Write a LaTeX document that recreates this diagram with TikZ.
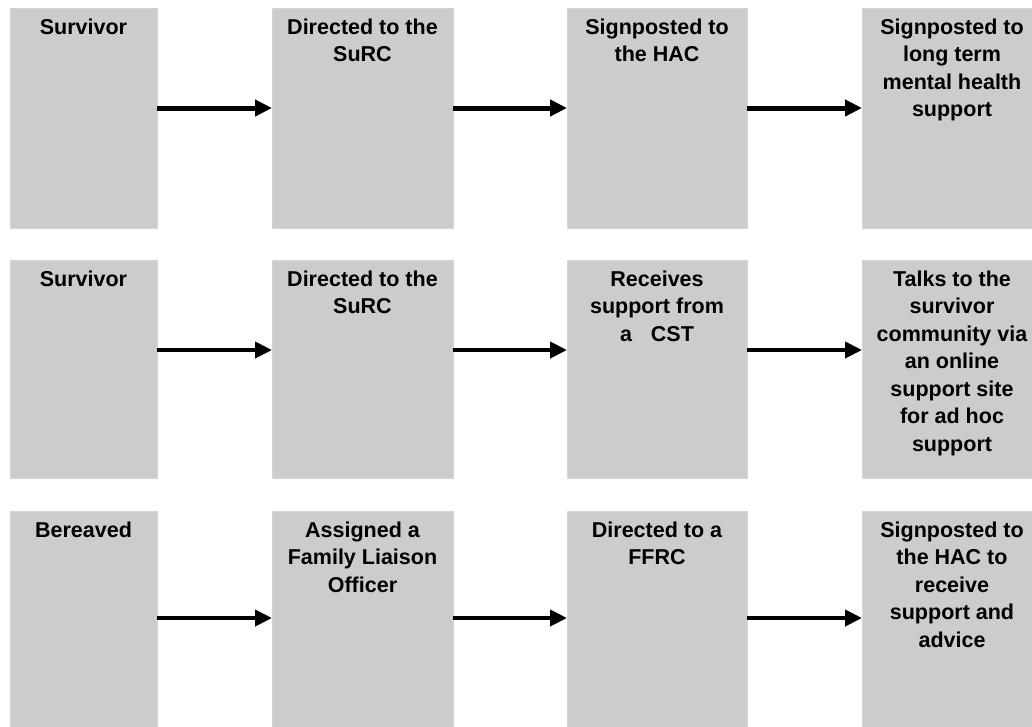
\documentclass[tikz,border=0pt]{standalone}
\usepackage{fontspec}
\setmainfont{Liberation Sans}
\usetikzlibrary{arrows.meta}
\definecolor{boxgray}{RGB}{204,204,204}
\definecolor{boxedge}{RGB}{214,214,214}
\newcommand{\boxtext}[3]{\parbox[c][#2][t]{#1}{\centering\rule{0pt}{26pt}#3\par}}
\tikzset{
  stagebox/.style={fill=boxgray, draw=boxedge, line width=0.8pt, inner sep=0pt, outer sep=0pt, anchor=north west,
    font=\bfseries\fontsize{21.5}{27.5}\selectfont},
  flowthick/.style={line width=5pt, -{Triangle[length=17pt,width=16pt]}},
  flow/.style={line width=4pt, -{Triangle[length=17pt,width=16pt]}},
}
\begin{document}
\begin{tikzpicture}[x=1pt,y=-1pt]
\useasboundingbox (0,0) rectangle (1032,726);
\clip (0,0) rectangle (1032,726);
% row 1
\node[stagebox] (a1) at (10,8)  {\boxtext{147pt}{220pt}{Survivor}};
\node[stagebox] (a2) at (272,8) {\boxtext{181pt}{220pt}{Directed to the\\SuRC}};
\node[stagebox] (a3) at (567,8) {\boxtext{180pt}{220pt}{Signposted to\\the HAC}};
\node[stagebox] (a4) at (862,8) {\boxtext{180pt}{220pt}{Signposted to\\long term\\mental health\\support}};
% row 2
\node[stagebox] (b1) at (10,260)  {\boxtext{147pt}{218pt}{Survivor}};
\node[stagebox] (b2) at (272,260) {\boxtext{181pt}{218pt}{Directed to the\\SuRC}};
\node[stagebox] (b3) at (567,260) {\boxtext{180pt}{218pt}{Receives\\support from\\a\hspace{0.6em} CST}};
\node[stagebox] (b4) at (862,260) {\boxtext{180pt}{218pt}{Talks to the\\survivor\\community via\\an online\\support site\\for ad hoc\\support}};
% row 3
\node[stagebox] (c1) at (10,511)  {\boxtext{147pt}{224pt}{Bereaved}};
\node[stagebox] (c2) at (272,511) {\boxtext{181pt}{224pt}{Assigned a\\Family Liaison\\Officer}};
\node[stagebox] (c3) at (567,511) {\boxtext{180pt}{224pt}{Directed to a\\FFRC}};
\node[stagebox] (c4) at (862,511) {\boxtext{180pt}{224pt}{Signposted to\\the HAC to\\receive\\support and\\advice}};
% arrows
\draw[flowthick] ([yshift=10pt]a1.east) -- ([yshift=10pt]a2.west);
\draw[flowthick] ([yshift=10pt]a2.east) -- ([yshift=10pt]a3.west);
\draw[flowthick] ([yshift=10pt]a3.east) -- ([yshift=10pt]a4.west);
\draw[flow] ([yshift=19pt]b1.east) -- ([yshift=19pt]b2.west);
\draw[flow] ([yshift=19pt]b2.east) -- ([yshift=19pt]b3.west);
\draw[flow] ([yshift=19pt]b3.east) -- ([yshift=19pt]b4.west);
\draw[flow] ([yshift=5pt]c1.east) -- ([yshift=5pt]c2.west);
\draw[flow] ([yshift=5pt]c2.east) -- ([yshift=5pt]c3.west);
\draw[flow] ([yshift=5pt]c3.east) -- ([yshift=5pt]c4.west);
\end{tikzpicture}
\end{document}
